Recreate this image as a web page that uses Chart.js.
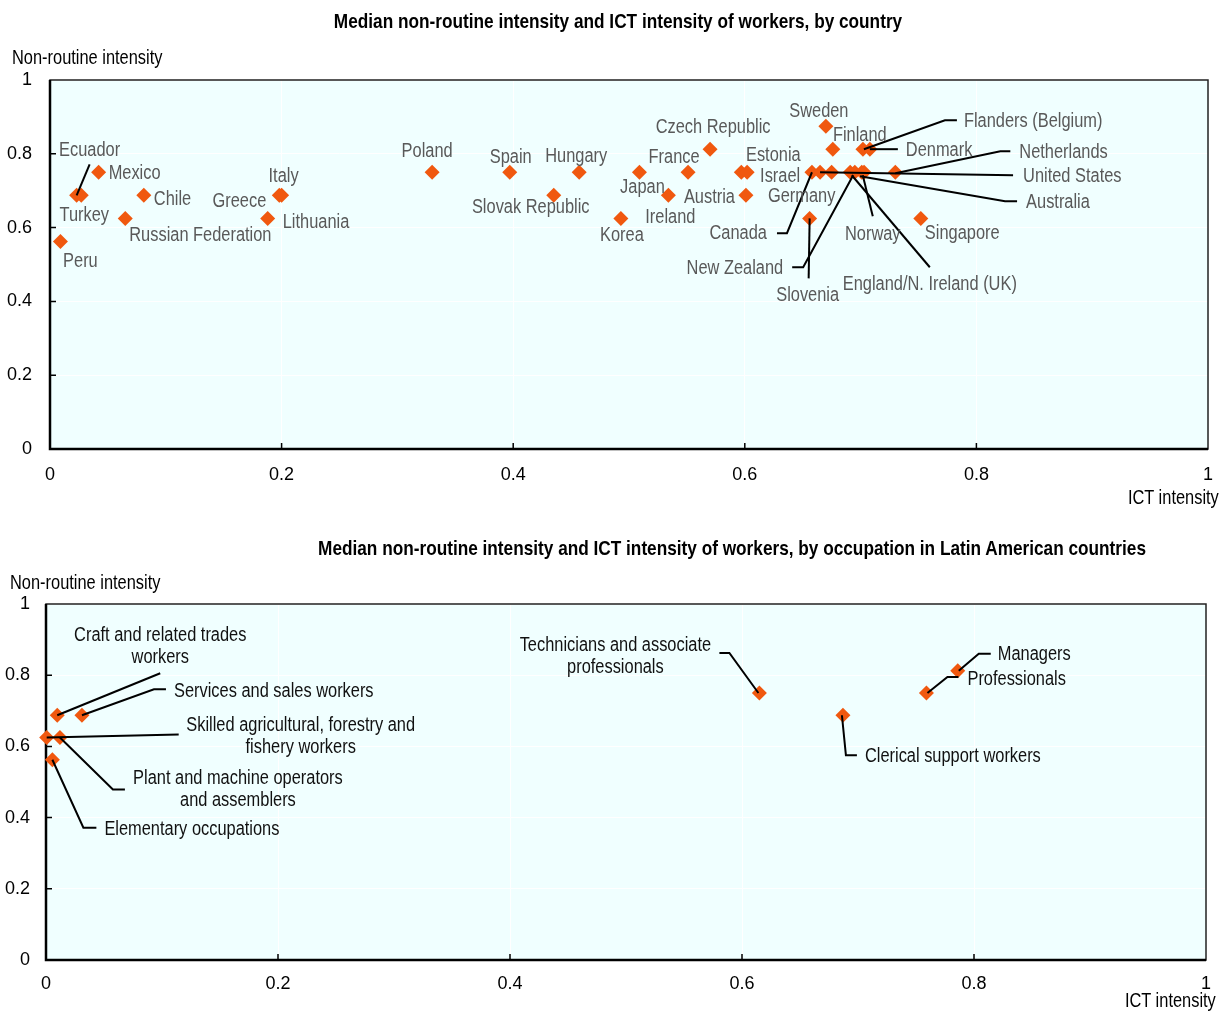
<!DOCTYPE html>
<html>
<head>
<meta charset="utf-8">
<title>Non-routine intensity and ICT intensity</title>
<script src="https://cdn.jsdelivr.net/npm/chart.js@4.4.1/dist/chart.umd.min.js"></script>
<style>
  body { margin: 0; background: #fff; font-family: 'Liberation Sans', Arial, sans-serif; }
  .panel { position: absolute; left: 0; width: 1222px; }
  #topPanel { top: 0; height: 515px; }
  #bottomPanel { top: 515px; height: 498px; }
  .chart-box { position: absolute; left: 0; top: 0; width: 100%; height: 100%; }
  /* narrow look: regular face squeezed horizontally */
  .title { position: absolute; font-weight: bold; font-size: 21px; white-space: nowrap; transform: translate(-50%, -50%) scaleX(0.82); color: #000; z-index: 2; }
  .axis-title { position: absolute; font-size: 20px; white-space: nowrap; transform: translateY(-50%) scaleX(0.82); transform-origin: left center; color: #000; z-index: 2; }
  .axis-title.right { transform-origin: right center; }
</style>
</head>
<body>
<div class="panel" id="topPanel">
  <div class="chart-box"><canvas id="countryChart"></canvas></div>
  <div class="title" style="left:618px; top:21px">Median non-routine intensity and ICT intensity of workers, by country</div>
  <div class="axis-title" style="left:12px; top:57px">Non-routine intensity</div>
  <div class="axis-title right" style="right:3px; top:497px">ICT intensity</div>
</div>
<div class="panel" id="bottomPanel">
  <div class="chart-box"><canvas id="occupationChart"></canvas></div>
  <div class="title" style="left:732px; top:33px">Median non-routine intensity and ICT intensity of workers, by occupation in Latin American countries</div>
  <div class="axis-title" style="left:10px; top:67px">Non-routine intensity</div>
  <div class="axis-title right" style="right:6px; top:485px">ICT intensity</div>
</div>
<script>
const FONT = "'Liberation Sans', Arial, sans-serif";
const NARROW = 0.82;
const MARKER = '#F0580F';

const tickValues = [0, 0.2, 0.4, 0.6, 0.8, 1];
const tickLabels = ['0', '0.2', '0.4', '0.6', '0.8', '1'];

// top panel: countries
const countries = [
  'Peru', 'Ecuador', 'Turkey', 'Mexico', 'Chile', 'Russian Federation', 'Lithuania', 'Greece', 'Italy',
  'Poland', 'Spain', 'Slovak Republic', 'Hungary', 'Korea', 'Japan', 'Ireland', 'France', 'Czech Republic',
  'Estonia', 'Israel', 'Austria', 'Slovenia', 'Canada', 'United States', 'Germany', 'New Zealand',
  'England/N. Ireland (UK)', 'Norway', 'Australia', 'Finland', 'Sweden', 'Flanders (Belgium)', 'Denmark',
  'Netherlands', 'Singapore'
];
const countryIct = [
  0.009, 0.023, 0.027, 0.042, 0.081, 0.065, 0.188, 0.198, 0.200,
  0.330, 0.397, 0.435, 0.457, 0.493, 0.509, 0.534, 0.551, 0.570,
  0.597, 0.602, 0.601, 0.656, 0.658, 0.665, 0.675, 0.691,
  0.695, 0.701, 0.703, 0.676, 0.670, 0.702, 0.708,
  0.730, 0.752
];
const countryNonRoutine = [
  0.5625, 0.6875, 0.6875, 0.75, 0.6875, 0.625, 0.625, 0.6875, 0.6875,
  0.75, 0.75, 0.6875, 0.75, 0.625, 0.75, 0.6875, 0.75, 0.8125,
  0.75, 0.75, 0.6875, 0.625, 0.75, 0.75, 0.75, 0.75,
  0.75, 0.75, 0.75, 0.8125, 0.875, 0.8125, 0.8125,
  0.75, 0.625
];

// bottom panel: occupations in Latin American countries
const occupations = [
  'Craft and related trades workers', 'Services and sales workers', 'Skilled agricultural, forestry and fishery workers',
  'Plant and machine operators and assemblers', 'Elementary occupations', 'Technicians and associate professionals',
  'Clerical support workers', 'Professionals', 'Managers'
];
const occupationIct = [0.0097, 0.031, 0.0006, 0.012, 0.0055, 0.615, 0.687, 0.759, 0.786];
const occupationNonRoutine = [0.6875, 0.6875, 0.625, 0.625, 0.5625, 0.75, 0.6875, 0.75, 0.8125];

// label placement: pixel offsets from the marker, optional leader polyline
const countryLabelLayout = {
  'Peru': { dx: 20, dy: 20 },
  'Ecuador': { dx: 13, dy: -45, leader: [[13, -31], [0, 0]] },
  'Turkey': { dx: 3, dy: 20 },
  'Mexico': { dx: 10, dy: 1, align: 'left' },
  'Chile': { dx: 10, dy: 4, align: 'left' },
  'Russian Federation': { dx: 4, dy: 17, align: 'left' },
  'Lithuania': { dx: 15, dy: 4, align: 'left' },
  'Greece': { dx: -13, dy: 6, align: 'right' },
  'Italy': { dx: 2, dy: -19 },
  'Poland': { dx: -5, dy: -21 },
  'Spain': { dx: 1, dy: -15 },
  'Slovak Republic': { dx: -23, dy: 12 },
  'Hungary': { dx: -3, dy: -16 },
  'Korea': { dx: 1, dy: 17 },
  'Japan': { dx: 3, dy: 15 },
  'Ireland': { dx: 2, dy: 22 },
  'France': { dx: -14, dy: -15 },
  'Czech Republic': { dx: 3, dy: -22 },
  'Estonia': { dx: 32, dy: -17 },
  'Israel': { dx: 13, dy: 4, align: 'left' },
  'Austria': { dx: -11, dy: 2, align: 'right' },
  'Slovenia': { dx: -2, dy: 77, leader: [[0, 0], [-1, 60]] },
  'Canada': { dx: -45, dy: 61, align: 'right', leader: [[-35, 61], [-25, 61], [0, 0]] },
  'United States': { dx: 203, dy: 4, align: 'left', leader: [[193, 3], [0, 0]] },
  'Germany': { dx: -30, dy: 24 },
  'New Zealand': { dx: -67, dy: 96, align: 'right', leader: [[-58, 95], [-47, 95], [3, 3]] },
  'England/N. Ireland (UK)': { dx: 75, dy: 112, leader: [[75, 95], [-3, 3]] },
  'Norway': { dx: 11, dy: 62, leader: [[11, 44], [1, 3]] },
  'Australia': { dx: 162, dy: 30, align: 'left', leader: [[153, 29], [141, 29], [-4, 4]] },
  'Finland': { dx: 27, dy: -14 },
  'Sweden': { dx: -7, dy: -15 },
  'Flanders (Belgium)': { dx: 101, dy: -28, align: 'left', leader: [[94, -29], [82, -29], [1, 0]] },
  'Denmark': { dx: 36, dy: 1, align: 'left', leader: [[28, 0], [0, 0]] },
  'Netherlands': { dx: 124, dy: -20, align: 'left', leader: [[115, -21], [105, -21], [0, 1]] },
  'Singapore': { dx: 4, dy: 15, align: 'left' }
};

const occupationLabelLayout = {
  'Craft and related trades workers': { dx: 103, dy: -80, wrap: 4, leader: [[103, -42], [0, 0]] },
  'Services and sales workers': { dx: 92, dy: -24, align: 'left', leader: [[84, -26], [72, -26], [0, 0]] },
  'Skilled agricultural, forestry and fishery workers': { dx: 254, dy: -12, wrap: 4, leader: [[132, -3], [0, 0]] },
  'Plant and machine operators and assemblers': { dx: 178, dy: 41, wrap: 4, leader: [[65, 52], [53, 52], [0, 0]] },
  'Elementary occupations': { dx: 52, dy: 70, align: 'left', leader: [[44, 68], [31, 68], [0, 0]] },
  'Technicians and associate professionals': { dx: -144, dy: -48, wrap: 3, leader: [[-40, -40], [-30, -40], [-1, 0]] },
  'Clerical support workers': { dx: 22, dy: 41, align: 'left', leader: [[-1, 0], [3, 40], [14, 40]] },
  'Professionals': { dx: 41, dy: -14, align: 'left', leader: [[32, -16], [21, -16], [1, 0]] },
  'Managers': { dx: 40, dy: -16, align: 'left', leader: [[33, -17], [21, -17], [1, 0]] }
};

const plotFrame = {
  id: 'plotFrame',
  beforeDraw(chart) {
    const { ctx, chartArea: a } = chart;
    ctx.save();
    ctx.fillStyle = '#F0FFFF';
    ctx.fillRect(a.left, a.top, a.width, a.height);
    ctx.restore();
  },
  beforeDatasetsDraw(chart) {
    const { ctx, chartArea: a, scales } = chart;
    ctx.save();
    ctx.strokeStyle = '#222';
    ctx.lineWidth = 1.5;
    ctx.strokeRect(a.left, a.top, a.width, a.height);
    ctx.strokeStyle = '#000';
    ctx.lineWidth = 2.5;
    ctx.beginPath();
    ctx.moveTo(a.left, a.top);
    ctx.lineTo(a.left, a.bottom);
    ctx.lineTo(a.right, a.bottom);
    ctx.stroke();
    // short tick marks pointing into the plot
    ctx.lineWidth = 1.5;
    ctx.beginPath();
    tickValues.slice(1, -1).forEach((v) => {
      const x = scales.x.getPixelForValue(v);
      ctx.moveTo(x, a.bottom);
      ctx.lineTo(x, a.bottom - 6);
      const y = scales.y.getPixelForValue(v);
      ctx.moveTo(a.left, y);
      ctx.lineTo(a.left + 6, y);
    });
    ctx.stroke();
    ctx.restore();
  }
};

function makeLabelPlugin(names, layout, color) {
  return {
    id: 'pointLabels',
    afterDatasetsDraw(chart) {
      const { ctx } = chart;
      const points = chart.getDatasetMeta(0).data;
      ctx.save();
      ctx.strokeStyle = '#000';
      ctx.lineWidth = 2;
      names.forEach((name, i) => {
        const l = layout[name];
        const p = points[i];
        if (!l || !l.leader) return;
        ctx.beginPath();
        l.leader.forEach(([dx, dy], k) => {
          if (k === 0) ctx.moveTo(p.x + dx, p.y + dy);
          else ctx.lineTo(p.x + dx, p.y + dy);
        });
        ctx.stroke();
      });
      ctx.font = `20px ${FONT}`;
      ctx.fillStyle = color;
      ctx.textBaseline = 'middle';
      names.forEach((name, i) => {
        const l = layout[name];
        const p = points[i];
        if (!l) return;
        const words = name.split(' ');
        const lines = l.wrap
          ? [words.slice(0, l.wrap).join(' '), words.slice(l.wrap).join(' ')]
          : [name];
        lines.forEach((text, k) => {
          ctx.save();
          ctx.translate(p.x + l.dx, p.y + l.dy + k * 22);
          ctx.scale(NARROW, 1);
          ctx.textAlign = l.align || 'center';
          ctx.fillText(text, 0, 0);
          ctx.restore();
        });
      });
      ctx.restore();
    }
  };
}

function buildOptions(cfg) {
  const tickFont = { family: FONT, size: 18 };
  return {
    responsive: true,
    maintainAspectRatio: false,
    animation: false,
    events: [],
    layout: { padding: { top: cfg.top, right: cfg.right, left: 0, bottom: 0 } },
    plugins: {
      legend: { display: false },
      tooltip: { enabled: false },
      title: { display: false }
    },
    scales: {
      x: {
        type: 'linear',
        min: 0,
        max: 1,
        afterBuildTicks: (scale) => { scale.ticks = tickValues.map((v) => ({ value: v })); },
        afterFit: (scale) => {
          scale.height = cfg.xHeight;
          scale.paddingLeft = 0;
          scale.paddingRight = 0;
        },
        grid: { color: '#ffffff', lineWidth: 1, drawTicks: false },
        border: { display: false },
        ticks: {
          callback: (v, i) => tickLabels[i],
          color: '#000',
          font: tickFont,
          padding: cfg.xPad,
          maxRotation: 0,
          autoSkip: false
        }
      },
      y: {
        type: 'linear',
        min: 0,
        max: 1,
        afterBuildTicks: (scale) => { scale.ticks = tickValues.map((v) => ({ value: v })); },
        afterFit: (scale) => {
          scale.width = cfg.yWidth;
          scale.paddingTop = 0;
          scale.paddingBottom = 0;
        },
        grid: { color: '#ffffff', lineWidth: 1, drawTicks: false },
        border: { display: false },
        ticks: {
          callback: (v, i) => tickLabels[i],
          color: '#000',
          font: tickFont,
          padding: cfg.yPad,
          autoSkip: false
        }
      }
    }
  };
}

function scatterDataset(xs, ys) {
  return {
    data: xs.map((x, i) => ({ x, y: ys[i] })),
    showLine: false,
    clip: false,
    pointStyle: 'rectRot',
    pointRadius: 7.5,
    pointBackgroundColor: MARKER,
    pointBorderWidth: 0,
    pointBorderColor: MARKER
  };
}

new Chart(document.getElementById('countryChart'), {
  type: 'scatter',
  data: { datasets: [scatterDataset(countryIct, countryNonRoutine)] },
  options: buildOptions({ top: 80, right: 14, xHeight: 66, yWidth: 50, xPad: 15, yPad: 18 }),
  plugins: [plotFrame, makeLabelPlugin(countries, countryLabelLayout, '#595959')]
});

new Chart(document.getElementById('occupationChart'), {
  type: 'scatter',
  data: { datasets: [scatterDataset(occupationIct, occupationNonRoutine)] },
  options: buildOptions({ top: 89, right: 16, xHeight: 53, yWidth: 46, xPad: 13, yPad: 16 }),
  plugins: [plotFrame, makeLabelPlugin(occupations, occupationLabelLayout, '#111')]
});
</script>
</body>
</html>
